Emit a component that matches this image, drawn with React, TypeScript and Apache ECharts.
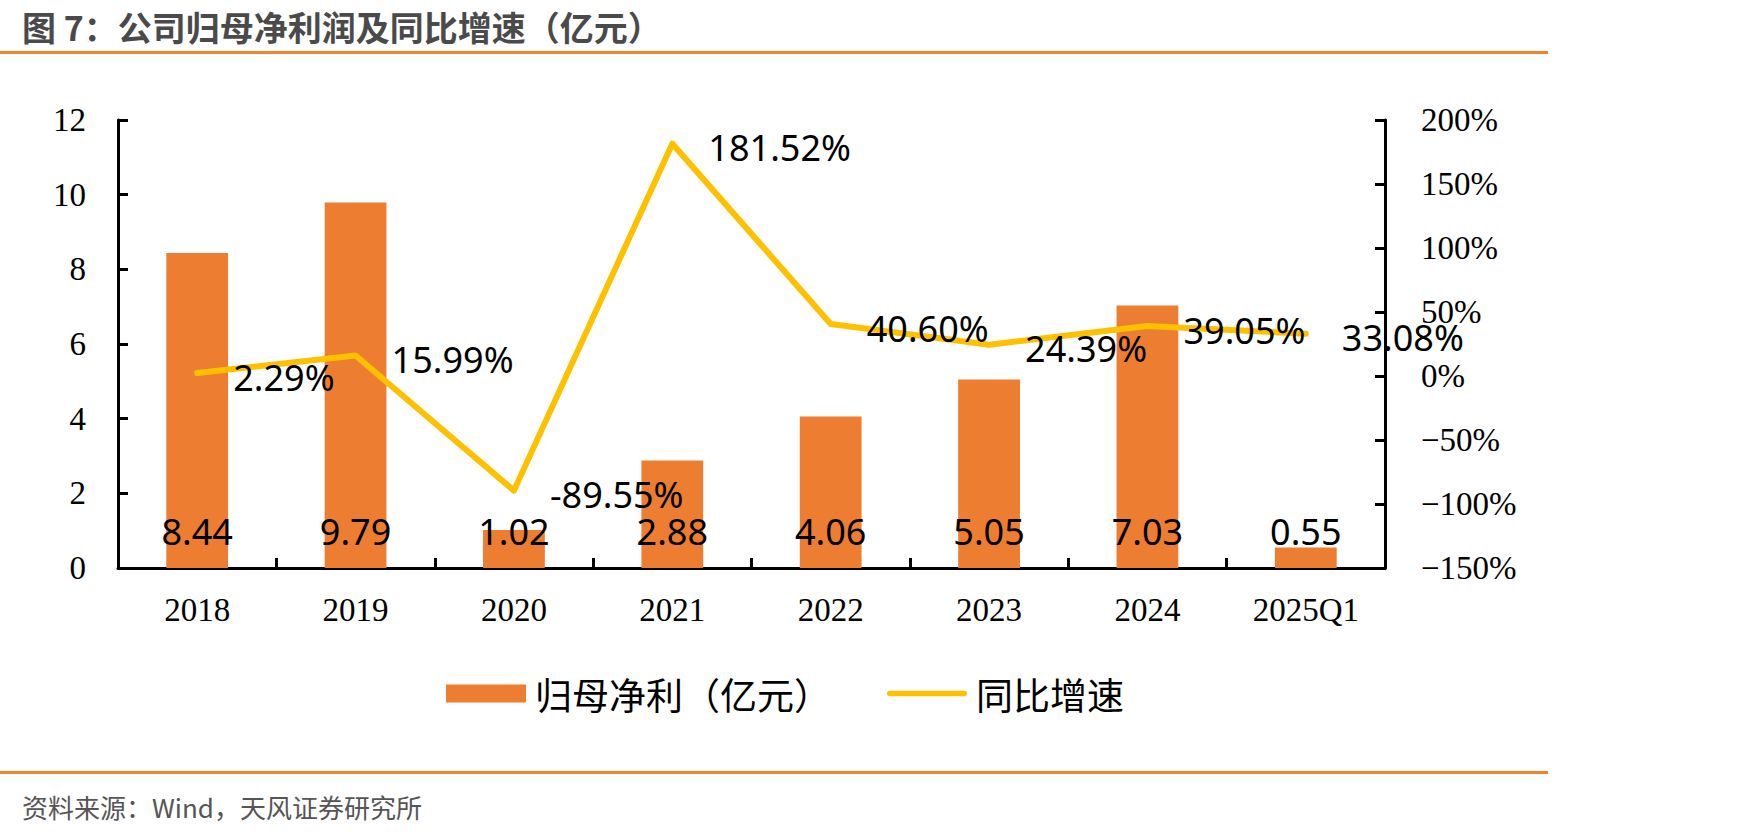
import React, { useEffect, useRef } from "react";
import * as echarts from "echarts";

const categories = ["2018", "2019", "2020", "2021", "2022", "2023", "2024", "2025Q1"];
const profitValues = [8.44, 9.79, 1.02, 2.88, 4.06, 5.05, 7.03, 0.55];
const growthValues = [2.29, 15.99, -89.55, 181.52, 40.6, 24.39, 39.05, 33.08];
const barName = "归母净利（亿元）";
const lineName = "同比增速";
const titleText = "图 7：公司归母净利润及同比增速（亿元）";
const sourceText = "资料来源：Wind，天风证券研究所";

const W = 1749;
const H = 839;
const ORANGE_RULE = "#F0862B";
const SERIF = "'Liberation Serif', 'DejaVu Serif', serif";
const SANS = "'Noto Sans', 'DejaVu Sans', sans-serif";
const CJK = "'Noto Sans CJK SC', sans-serif";
const LINE_ICON = "path://M3,0 H87 A3,3 0 0 1 87,6 H3 A3,3 0 0 1 3,0 Z";

export default function App() {
  const ref = useRef<HTMLDivElement>(null);
  useEffect(() => {
    if (!ref.current) return;
    const chart = echarts.init(ref.current, null, { renderer: "svg" });
    const axisLine = { show: true, lineStyle: { color: "#000", width: 3 } };
    const axisTick = { show: true, inside: true, length: 10, lineStyle: { color: "#000", width: 3 } };
    chart.setOption({
      animation: false,
      backgroundColor: "#fff",
      grid: { left: 118, right: W - 1385, top: 120, bottom: H - 568, containLabel: false },
      legend: {
        left: 441,
        top: 670,
        itemWidth: 80,
        itemHeight: 18,
        itemGap: 56,
        symbolKeepAspect: true,
        textStyle: { fontFamily: CJK, fontSize: 37, color: "#000", padding: [0, 0, 0, 4] },
        data: [
          { name: barName, icon: "rect" },
          { name: lineName, icon: LINE_ICON },
        ],
      },
      xAxis: {
        type: "category",
        data: categories,
        axisLine,
        axisTick,
        axisLabel: { fontFamily: SERIF, fontSize: 33, color: "#000", margin: 25 },
        splitLine: { show: false },
      },
      yAxis: [
        {
          type: "value",
          min: 0,
          max: 12,
          interval: 2,
          axisLine,
          axisTick,
          splitLine: { show: false },
          axisLabel: { fontFamily: SERIF, fontSize: 33, color: "#000", margin: 32 },
        },
        {
          type: "value",
          min: -150,
          max: 200,
          interval: 50,
          position: "right",
          axisLine,
          axisTick,
          splitLine: { show: false },
          axisLabel: {
            fontFamily: SERIF,
            fontSize: 33,
            color: "#000",
            margin: 36,
            formatter: (v: number) => (v < 0 ? "\u2212" + Math.abs(v) : String(v)) + "%",
          },
        },
      ],
      series: [
        {
          name: barName,
          type: "bar",
          data: profitValues,
          barWidth: "39%",
          itemStyle: { color: "#ED7D31" },
          label: {
            show: true,
            position: "insideBottom",
            distance: 19,
            fontFamily: SANS,
            fontSize: 36,
            color: "#000",
            formatter: (p: any) => p.value.toFixed(2),
          },
        },
        {
          name: lineName,
          type: "line",
          yAxisIndex: 1,
          data: growthValues,
          symbol: "circle",
          symbolSize: 0.1,
          showSymbol: true,
          lineStyle: { color: "#FFC000", width: 6, cap: "round", join: "round" },
          itemStyle: { color: "#FFC000" },
          label: {
            show: true,
            position: "right",
            distance: 36,
            offset: [0, 4],
            fontFamily: SANS,
            fontSize: 36,
            color: "#000",
            formatter: (p: any) => p.value.toFixed(2) + "%",
          },
          z: 5,
        },
      ],
      graphic: [
        {
          type: "text",
          left: 22,
          top: 6,
          style: {
            text: titleText,
            fontFamily: CJK,
            fontSize: 34,
            lineHeight: 40,
            fontWeight: "bold",
            fill: "#4a4a4a",
          },
        },
        {
          type: "rect",
          shape: { x: 0, y: 51, width: 1548, height: 3 },
          style: { fill: ORANGE_RULE },
        },
        {
          type: "rect",
          shape: { x: 0, y: 771, width: 1548, height: 3 },
          style: { fill: ORANGE_RULE },
        },
        {
          type: "text",
          left: 22,
          top: 793,
          style: {
            text: sourceText,
            fontFamily: CJK,
            fontSize: 26,
            fill: "#555",
          },
        },
      ],
    });
    return () => chart.dispose();
  }, []);
  return (
    <div
      ref={ref}
      style={{ position: "fixed", left: 0, top: 0, width: W, height: H, background: "#fff" }}
    />
  );
}
